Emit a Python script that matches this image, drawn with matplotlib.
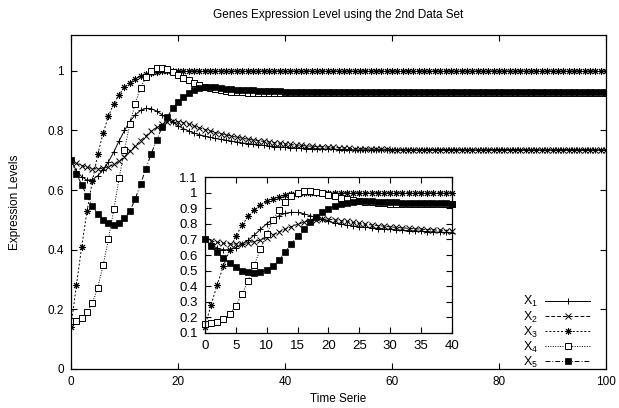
import matplotlib
matplotlib.use("Agg")
import matplotlib.pyplot as plt
import numpy as np

plt.rcParams['font.family'] = ['Liberation Sans', 'DejaVu Sans']
plt.rcParams['mathtext.fontset'] = 'custom'
plt.rcParams['mathtext.rm'] = 'Liberation Sans'

# ---- data, t = 0..100 ----
x1_head = [0.700, 0.665, 0.645, 0.633, 0.635, 0.648, 0.668, 0.695, 0.728, 0.765,
           0.800, 0.830, 0.852, 0.867, 0.874, 0.873, 0.865, 0.853, 0.840, 0.828,
           0.816, 0.806, 0.798, 0.791, 0.786, 0.781, 0.777, 0.773, 0.770, 0.767,
           0.764, 0.761, 0.758, 0.756, 0.754, 0.752, 0.750, 0.748, 0.746, 0.745,
           0.743, 0.742, 0.741, 0.740, 0.739, 0.739, 0.738, 0.738, 0.737, 0.737,
           0.736, 0.736, 0.736, 0.735, 0.735]
x2_head = [0.700, 0.690, 0.682, 0.676, 0.672, 0.671, 0.673, 0.678, 0.686, 0.697,
           0.712, 0.730, 0.748, 0.766, 0.782, 0.797, 0.810, 0.820, 0.827, 0.830,
           0.829, 0.826, 0.821, 0.815, 0.809, 0.803, 0.798, 0.793, 0.789, 0.785,
           0.781, 0.777, 0.774, 0.771, 0.768, 0.766, 0.763, 0.761, 0.759, 0.757,
           0.755, 0.753, 0.751, 0.750, 0.748, 0.747, 0.746, 0.745, 0.744, 0.743,
           0.742, 0.741, 0.740, 0.739, 0.739, 0.738, 0.738, 0.737, 0.737, 0.737,
           0.736]
x3_head = [0.140, 0.280, 0.410, 0.530, 0.630, 0.720, 0.790, 0.848, 0.890, 0.920,
           0.945, 0.960, 0.972, 0.982, 0.989, 0.994, 0.997, 0.999, 1.000]
x4_head = [0.160, 0.162, 0.170, 0.190, 0.222, 0.272, 0.348, 0.435, 0.535, 0.640,
           0.735, 0.822, 0.890, 0.943, 0.978, 0.998, 1.008, 1.010, 1.005, 0.996,
           0.986, 0.977, 0.968, 0.960, 0.953, 0.947, 0.942, 0.938, 0.935, 0.932,
           0.930, 0.929, 0.928, 0.927, 0.926, 0.925]
x5_head = [0.700, 0.655, 0.618, 0.580, 0.547, 0.520, 0.500, 0.488, 0.483, 0.488,
           0.505, 0.530, 0.570, 0.620, 0.672, 0.722, 0.768, 0.810, 0.845, 0.875,
           0.896, 0.912, 0.925, 0.935, 0.941, 0.944, 0.945, 0.944, 0.942, 0.940,
           0.938, 0.937, 0.936, 0.935, 0.934, 0.933, 0.932, 0.932, 0.931, 0.931,
           0.930]
x1_steady = 0.735
x2_steady = 0.736
x3_steady = 1.000
x4_steady = 0.925
x5_steady = 0.930
n_points = 101

labels = [r'$\mathrm{X_1}$', r'$\mathrm{X_2}$', r'$\mathrm{X_3}$',
          r'$\mathrm{X_4}$', r'$\mathrm{X_5}$']

def full(head, steady):
    return np.array(list(head) + [steady] * (n_points - len(head)))

t = np.arange(n_points)
series = [full(x1_head, x1_steady), full(x2_head, x2_steady),
          full(x3_head, x3_steady), full(x4_head, x4_steady),
          full(x5_head, x5_steady)]

styles = [
    dict(ls='-', marker='+', ms=5, mfc='black', mec='black', mew=0.7),
    dict(ls=(0, (4, 2)), marker='x', ms=4, mfc='black', mec='black', mew=0.7),
    dict(ls=(0, (2, 2)), marker=(8, 2, 0), ms=5, mfc='black', mec='black', mew=0.7),
    dict(ls=(0, (1, 1.5)), marker='s', ms=4.3, mfc='white', mec='black', mew=0.7),
    dict(ls=(0, (5, 2, 1, 2)), marker='s', ms=4.5, mfc='black', mec='black', mew=0.5),
]

fig = plt.figure(figsize=(6.19, 4.08), dpi=100)
ax = fig.add_axes([0.1147, 0.0956, 0.8643, 0.8186])

for y, st, lab in zip(series, styles, labels):
    ax.plot(t, y, color='black', lw=0.7, label=lab, **st)

ax.set_xlim(0, 100)
ax.set_ylim(0, 1.12)
ax.set_xticks([0, 20, 40, 60, 80, 100])
ax.set_yticks([0, 0.2, 0.4, 0.6, 0.8, 1.0])
ax.set_yticklabels(['0', '0.2', '0.4', '0.6', '0.8', '1'])
ax.tick_params(direction='in', top=True, right=True, length=4, width=0.8,
               labelsize=8.5, pad=5)
for s in ax.spines.values():
    s.set_linewidth(0.9)
ax.set_title('Genes Expression Level using the 2nd Data Set', fontsize=8.5, pad=12)
ax.set_xlabel('Time Serie', fontsize=8.5, labelpad=4)
ax.set_ylabel('Expression Levels', fontsize=8.5, labelpad=19)

leg = ax.legend(loc='lower right', bbox_to_anchor=(0.975, -0.01), frameon=False,
                markerfirst=False, fontsize=9, handlelength=3.6,
                labelspacing=0.0, handletextpad=0.6, borderpad=0.2,
                borderaxespad=0)
for txt in leg.get_texts():
    txt.set_ha('right')

# ---- inset ----
ins = fig.add_axes([0.331, 0.184, 0.399, 0.382])
ins.set_facecolor('white')
mask = t <= 40
for y, st in zip(series, styles):
    ins.plot(t[mask], y[mask], color='black', lw=0.7, clip_on=False, **st)
ins.set_xlim(0, 40)
ins.set_ylim(0.1, 1.1)
ins.set_xticks(np.arange(0, 41, 5))
ins.set_yticks([0.1, 0.2, 0.3, 0.4, 0.5, 0.6, 0.7, 0.8, 0.9, 1.0, 1.1])
ins.set_yticklabels(['0.1', '0.2', '0.3', '0.4', '0.5', '0.6', '0.7', '0.8',
                     '0.9', '1', '1.1'])
ins.tick_params(direction='in', top=True, right=True, length=4, width=0.8,
                labelsize=9.5, pad=5)
for s in ins.spines.values():
    s.set_linewidth(0.9)

fig.savefig('out.png', dpi=100)
